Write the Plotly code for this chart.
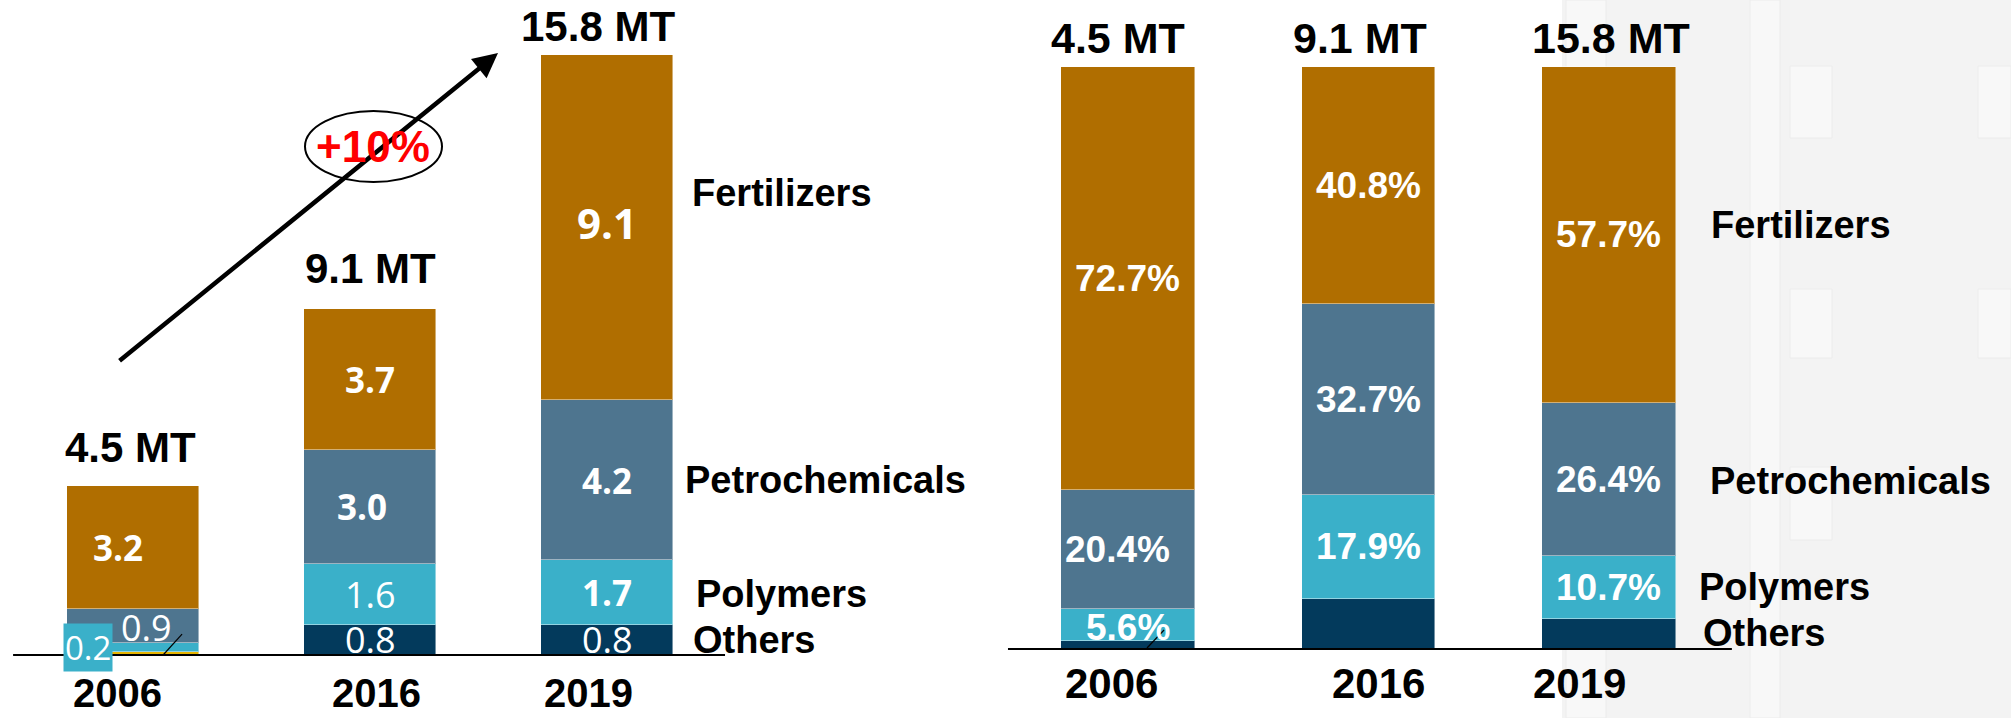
import plotly.graph_objects as go

W, H = 2011, 718

# ---------------- data ----------------
years = ["2006", "2016", "2019"]
sectors = ["Others", "Polymers", "Petrochemicals", "Fertilizers"]  # bottom -> top

# left chart: volumes in million tonnes
others_mt = [0.08, 0.8, 0.8]
poly_mt = [0.23, 1.6, 1.7]
petro_mt = [0.9, 3.0, 4.2]
fert_mt = [3.25, 3.7, 9.1]
others_mt_lbl = ["", "0.8", "0.8"]
poly_mt_lbl = ["0.2", "1.6", "1.7"]
petro_mt_lbl = ["0.9", "3.0", "4.2"]
fert_mt_lbl = ["3.2", "3.7", "9.1"]
total_mt_lbl = ["4.5 MT", "9.1 MT", "15.8 MT"]

# right chart: shares in percent
others_pct = [1.3, 8.6, 5.2]
poly_pct = [5.6, 17.9, 10.7]
petro_pct = [20.4, 32.7, 26.4]
fert_pct = [72.7, 40.8, 57.7]
others_pct_lbl = ["", "", ""]
poly_pct_lbl = ["5.6%", "17.9%", "10.7%"]
petro_pct_lbl = ["20.4%", "32.7%", "26.4%"]
fert_pct_lbl = ["72.7%", "40.8%", "57.7%"]
growth_lbl = "+10%"

# ---------------- styles ----------------
C_FERT = "#B06E00"
C_PETRO = "#4E758F"
C_POLY = "#3AB0C9"
C_OTH = "#033A5C"
C_OTH_2006 = "#E8B400"
ARIAL = "Liberation Sans, Arial, sans-serif"
OPEN = "Open Sans, Segoe UI, sans-serif"
NARROW = "Liberation Sans Narrow, Arial Narrow, Open Sans, sans-serif"


def px(x):
    return x / W


def py(y):
    return 1 - y / H


xpos = list(range(len(years)))
fig = go.Figure()

left_series = [
    (others_mt, [C_OTH_2006, C_OTH, C_OTH]),
    (poly_mt, C_POLY),
    (petro_mt, C_PETRO),
    (fert_mt, C_FERT),
]
right_series = [
    (others_pct, C_OTH),
    (poly_pct, C_POLY),
    (petro_pct, C_PETRO),
    (fert_pct, C_FERT),
]

for (vals, col), name in zip(left_series, sectors):
    fig.add_trace(go.Bar(x=xpos, y=vals, name=name, marker=dict(color=col, line=dict(width=1, color="rgba(255,255,255,0.45)")),
                         width=0.553, xaxis="x", yaxis="y", showlegend=False))
for (vals, col), name in zip(right_series, sectors):
    fig.add_trace(go.Bar(x=xpos, y=vals, name=name, marker=dict(color=col, line=dict(width=1, color="rgba(255,255,255,0.45)")),
                         width=0.557, xaxis="x2", yaxis="y2", showlegend=False))

ann = []
shapes = []

# background photo-like grey area on the right
shapes.append(dict(type="rect", xref="paper", yref="paper", x0=px(1562), x1=1, y0=0, y1=1,
                   fillcolor="#F3F3F3", line=dict(width=0), layer="below"))
for (x0, x1, y0, y1) in [(1750, 1780, 0, 718), (1790, 1832, 66, 138), (1790, 1832, 289, 358),
                         (1790, 1832, 467, 540), (1978, 2011, 66, 138), (1978, 2011, 289, 358),
                         (1566, 1606, 0, 718)]:
    shapes.append(dict(type="rect", xref="paper", yref="paper", x0=px(x0), x1=px(x1), y0=py(y1), y1=py(y0),
                       fillcolor="rgba(255,255,255,0.4)", line=dict(width=1, color="#ECECEC"), layer="below"))

# baselines
shapes.append(dict(type="line", xref="x", yref="y", x0=-0.506, x1=2.498, y0=0, y1=0,
                   line=dict(color="black", width=2)))
shapes.append(dict(type="line", xref="x2", yref="y2", x0=-0.499, x1=2.511, y0=0, y1=0,
                   line=dict(color="black", width=2)))


def seg_labels(series, labels, xref, yref, styles):
    base = [0.0] * len(years)
    for vals, lbls, sty in zip(series, labels, styles):
        for i, v in enumerate(vals):
            s = sty[i]
            if lbls[i]:
                a = dict(x=xpos[i], y=base[i] + v / 2, xref=xref, yref=yref, text=lbls[i], showarrow=False,
                         font=dict(family=s.get("family", ARIAL), size=s.get("size", 36), color="white",
                                   weight=s.get("weight", "bold")),
                         xanchor="center", yanchor="middle", xshift=s.get("dx", 0), yshift=s.get("dy", 0))
                if s.get("bg"):
                    a.update(bgcolor=s["bg"], borderpad=1)
                ann.append(a)
            base[i] += v
    return base


B = dict(family=OPEN, size=35, weight="bold")
R = dict(family=OPEN, size=36, weight="normal")
left_styles = [
    [R, R, R],
    [dict(R, size=33, bg=C_POLY, dx=-45, dy=0), R, B],
    [dict(R, dx=13, dy=-1), dict(B, dx=-8), B],
    [dict(B, dx=-15), B, dict(B, family=NARROW, size=42, dy=5)],
]
tot_left = seg_labels([m[0] for m in left_series], [others_mt_lbl, poly_mt_lbl, petro_mt_lbl, fert_mt_lbl],
                      "x", "y", left_styles)

P = dict(family=ARIAL, size=37, weight="bold")
right_styles = [
    [P, P, P],
    [dict(P, dy=-2), P, P],
    [dict(P, dx=-10), P, P],
    [P, P, P],
]
tot_right = seg_labels([m[0] for m in right_series], [others_pct_lbl, poly_pct_lbl, petro_pct_lbl, fert_pct_lbl],
                       "x2", "y2", right_styles)

# totals above bars
for i, t in enumerate(total_mt_lbl):
    ann.append(dict(x=xpos[i], y=tot_left[i], xref="x", yref="y", text=t, showarrow=False,
                    font=dict(family=ARIAL, size=42, color="black", weight="bold"),
                    xanchor="center", yanchor="middle", xshift=[-3, 0, -9][i], yshift=[38, 41, 28][i]))
    ann.append(dict(x=xpos[i], y=100, xref="x2", yref="y2", text=t, showarrow=False,
                    font=dict(family=ARIAL, size=43, color="black", weight="bold"),
                    xanchor="center", yanchor="middle", xshift=[-10, -8, 2][i], yshift=29))

# year labels
for i, yr in enumerate(years):
    ann.append(dict(x=xpos[i], y=0, xref="x", yref="y", text=yr, showarrow=False,
                    font=dict(family=ARIAL, size=40, color="black", weight="bold"),
                    xanchor="center", yanchor="middle", xshift=[-16, 6, -19][i], yshift=-38))
    ann.append(dict(x=xpos[i], y=0, xref="x2", yref="y2", text=yr, showarrow=False,
                    font=dict(family=ARIAL, size=42, color="black", weight="bold"),
                    xanchor="center", yanchor="middle", xshift=[-16, 10, -29][i], yshift=-34))

# sector names beside the charts
left_names = [("Fertilizers", 690, 193), ("Petrochemicals", 683, 480), ("Polymers", 694, 594), ("Others", 691, 640)]
right_names = [("Fertilizers", 1709, 225), ("Petrochemicals", 1708, 481), ("Polymers", 1697, 587), ("Others", 1701, 633)]
for (t, x, y) in left_names + right_names:
    ann.append(dict(x=px(x), y=py(y), xref="paper", yref="paper", text=t, showarrow=False,
                    font=dict(family=ARIAL, size=38, color="black", weight="bold"),
                    xanchor="left", yanchor="middle"))

# growth arrow
ann.append(dict(x=1.540, y=15.84, ax=-0.063, ay=7.71, xref="x", yref="y", axref="x", ayref="y", text="",
                showarrow=True, arrowhead=2, arrowsize=1.1, arrowwidth=4.5, arrowcolor="black"))
shapes.append(dict(type="circle", xref="paper", yref="paper", x0=px(305), x1=px(442), y0=py(182), y1=py(111),
                   fillcolor="white", line=dict(color="black", width=2), layer="above"))
ann.append(dict(x=px(373), y=py(146), xref="paper", yref="paper", text=growth_lbl, showarrow=False,
                font=dict(family=ARIAL, size=44, color="#FF0000", weight="bold"), xanchor="center", yanchor="middle"))

# leader lines
shapes.append(dict(type="line", xref="x", yref="y", x0=0.127, y0=0, x1=0.207, y1=0.55,
                   line=dict(color="black", width=1.2)))
shapes.append(dict(type="line", xref="x2", yref="y2", x0=0.079, y0=0.17, x1=0.15, y1=3.26,
                   line=dict(color="black", width=1.2)))

fig.update_layout(
    width=W, height=H, margin=dict(l=0, r=0, t=0, b=0),
    paper_bgcolor="white", plot_bgcolor="rgba(0,0,0,0)",
    barmode="stack", bargap=0,
    xaxis=dict(domain=[0, 1005 / W], range=[-0.5612, 3.6793], visible=False, fixedrange=True),
    yaxis=dict(domain=[0, 1], range=[-1.658, 17.237], visible=False, fixedrange=True),
    xaxis2=dict(domain=[1005 / W, 1], range=[-0.5114, 3.6716], visible=False, anchor="y2", fixedrange=True),
    yaxis2=dict(domain=[0, 1], range=[-11.856, 111.51], visible=False, anchor="x2", fixedrange=True),
    annotations=ann, shapes=shapes,
)

fig.write_html("out.html", config={"displayModeBar": False},
               post_script="document.body.style.margin='0';document.body.style.overflow='hidden';")
